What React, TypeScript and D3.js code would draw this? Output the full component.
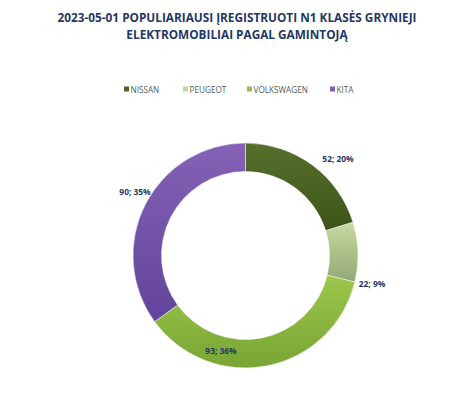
import React from "react";
import * as d3 from "d3";

// chart values
const titleLines = [
  "2023-05-01 POPULIARIAUSI ĮREGISTRUOTI N1 KLASĖS GRYNIEJI",
  "ELEKTROMOBILIAI PAGAL GAMINTOJĄ",
];
const brands = ["NISSAN", "PEUGEOT", "VOLKSWAGEN", "KITA"];
const counts = [52, 22, 93, 90];
const percents = [20, 9, 36, 35];
const colorsTop = ["#56702c", "#c6d9a0", "#9cc74c", "#8462b6"];
const colorsBottom = ["#3d5519", "#93a875", "#78a534", "#62449a"];
const legendColors = ["#4f6228", "#c3d69b", "#9bbb59", "#7f5fb0"];

const W = 474;
const H = 407;

type Slice = { brand: string; count: number; pct: number };

const App: React.FC = () => {
  const cx = 245.5;
  const cy = 255.5;
  const outerR = 112.5;
  const innerR = 84;

  const data: Slice[] = brands.map((b, i) => ({ brand: b, count: counts[i], pct: percents[i] }));

  const pie = d3
    .pie<Slice>()
    .value((d) => d.count)
    .sort(null);
  const arcs = pie(data);
  const arc = d3.arc<d3.PieArcDatum<Slice>>().innerRadius(innerR).outerRadius(outerR);

  // label spots, placed like Excel's best-fit
  const labelPos: [number, number][] = [
    [338, 162],
    [372, 287],
    [221, 354],
    [135, 195],
  ];
  const legendOffsets = [124, 183, 247, 330];

  return (
    <svg width={W} height={H} style={{ position: "absolute", left: 0, top: 0, background: "#fff" }}>
      <defs>
        {brands.map((b, i) => (
          <linearGradient key={b} id={`g${i}`} x1="0" y1="0" x2="0" y2="1">
            <stop offset="0%" stopColor={colorsTop[i]} />
            <stop offset="100%" stopColor={colorsBottom[i]} />
          </linearGradient>
        ))}
      </defs>
      <rect width={W} height={H} fill="#fff" />
      {titleLines.map((t, i) => (
        <text
          key={i}
          x={237}
          y={22 + i * 17}
          textAnchor="middle"
          fontFamily="'Open Sans', sans-serif"
          fontWeight="bold"
          fontSize={11.8}
          fill="#1f3864"
        >
          {t}
        </text>
      ))}
      {brands.map((b, i) => (
        <g key={b} transform={`translate(${legendOffsets[i]},90)`}>
          <rect x={0} y={-3.5} width={5} height={5} fill={legendColors[i]} />
          <text x={6.5} y={2.8} fontFamily="'Open Sans', sans-serif" fontSize={8.2} fill="#595959">
            {b}
          </text>
        </g>
      ))}
      <g transform={`translate(${cx},${cy})`}>
        {arcs.map((a, i) => (
          <path key={i} d={arc(a) || ""} fill={`url(#g${i})`} stroke="#fff" strokeWidth={0.5} />
        ))}
      </g>
      {arcs.map((a, i) => (
        <text
          key={i}
          x={labelPos[i][0]}
          y={labelPos[i][1]}
          textAnchor="middle"
          fontFamily="'Open Sans', sans-serif"
          fontWeight="bold"
          fontSize={8.4}
          fill="#1f3864"
        >
          {`${a.data.count}; ${a.data.pct}%`}
        </text>
      ))}
    </svg>
  );
};

export default App;
